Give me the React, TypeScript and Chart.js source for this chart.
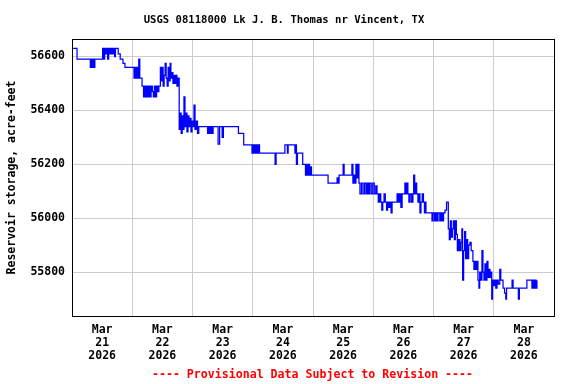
import React, { useEffect, useRef } from 'react';
import { Chart, registerables } from 'chart.js';

Chart.register(...registerables);

const TITLE = 'USGS 08118000 Lk J. B. Thomas nr Vincent, TX';
const FOOTER = '---- Provisional Data Subject to Revision ----';
const Y_LABEL = 'Reservoir storage, acre-feet';
const MONTH = 'Mar';
const YEAR = '2026';
const DAY_LABELS = ['21', '22', '23', '24', '25', '26', '27', '28'];
const Y_TICKS = [55800, 56000, 56200, 56400, 56600];
const Y_MIN = 55637;
const Y_MAX = 56665;
const X_MAX_HOURS = 192;

// hours since Mar 21 2026 00:00
const HOURS = [
  0, 2.0, 7.3, 7.6, 8.0, 8.4, 8.8, 9.1, 12.2, 12.6, 13.0, 13.4, 13.8, 14.2, 14.6,
  15.0, 15.25, 15.5, 15.75, 16.0, 16.25, 16.5, 16.75, 17.0, 17.3, 18.4, 19.2, 20.3, 21.1,
  24.7, 25.0, 25.4, 25.8, 26.2, 26.6, 27.0, 27.9, 28.5, 28.8, 29.3, 29.7, 30.2, 30.5,
  31.0, 31.5, 32.0, 32.4, 32.8, 33.3, 33.7, 34.2, 34.6, 35.2, 35.5, 35.9, 36.3, 36.7,
  37.1, 37.5, 37.9, 38.3, 38.7, 39.1, 39.4, 39.8, 40.2, 40.6, 41.0, 41.4, 41.8, 42.2,
  42.7, 43.1, 43.5, 43.9, 44.3, 44.6, 45.0, 45.4, 45.8, 46.2, 46.6, 47.0, 47.4, 47.8,
  48.2, 48.6, 49.0, 49.5, 50.0, 50.5, 54.0, 54.4, 54.8, 55.3, 55.8, 56.2, 58.2, 58.8,
  59.8, 60.3, 66.3, 68.4, 71.7, 72.0, 72.3, 72.6, 72.9, 73.2, 73.5, 73.8, 74.1, 74.4,
  74.7, 80.9, 81.3, 84.8, 85.8, 86.1, 88.8, 89.1, 89.4, 89.8, 91.9, 93.0, 93.4, 93.8,
  94.2, 94.6, 95.0, 95.4, 102.0, 105.6, 106.0, 106.4, 108.0, 108.4, 111.5, 111.9, 112.3,
  112.7, 113.1, 113.5, 113.9, 114.3, 114.7, 115.3, 115.9, 116.5, 117.1, 117.6, 118.1,
  118.6, 119.2, 119.8, 120.4, 121.0, 121.5, 122.0, 122.5, 123.0, 123.4, 123.8, 124.3,
  124.8, 125.3, 125.7, 126.2, 126.7, 127.1, 127.5, 129.5, 130.0, 130.5, 131.0, 131.5,
  132.6, 133.0, 133.4, 133.8, 134.2, 134.7, 135.3, 135.8, 136.1, 136.5, 136.9, 137.3,
  137.8, 138.2, 138.6, 139.0, 139.5, 140.0, 140.4, 140.7, 141.0, 143.4, 143.8, 144.4,
  144.8, 145.3, 145.8, 146.5, 147.0, 147.5, 148.0, 148.6, 149.2, 149.9, 150.3, 150.7,
  151.1, 151.5, 151.9, 152.3, 152.7, 153.1, 153.5, 154.0, 154.5, 155.0, 155.3, 155.6,
  156.0, 156.4, 156.8, 157.2, 157.6, 158.0, 158.5, 159.0, 159.7, 160.1, 160.5, 161.0,
  161.3, 161.7, 162.1, 162.4, 162.8, 163.3, 163.7, 164.1, 164.5, 164.9, 165.3, 165.7,
  166.1, 166.5, 166.9, 167.2, 167.5, 167.9, 168.3, 168.8, 169.3, 169.8, 170.4, 170.8,
  171.7, 172.3, 172.8, 173.1, 175.3, 175.7, 177.8, 178.2, 181.2, 183.2, 183.6, 184.0,
  184.4, 184.8, 185.2,
];

const STORAGE = [
  56630, 56590, 56560, 56590, 56560, 56590, 56560, 56590, 56630, 56590, 56630, 56610, 56630, 56590, 56630,
  56610, 56630, 56610, 56630, 56610, 56630, 56610, 56630, 56600, 56630, 56610, 56590, 56575, 56560,
  56520, 56560, 56520, 56560, 56520, 56590, 56520, 56490, 56450, 56490, 56450, 56490, 56450, 56490,
  56450, 56490, 56470, 56450, 56490, 56450, 56490, 56470, 56490, 56560, 56510, 56560, 56490, 56530,
  56575, 56520, 56490, 56560, 56510, 56575, 56520, 56540, 56500, 56530, 56500, 56530, 56490, 56520,
  56330, 56390, 56315, 56380, 56330, 56450, 56340, 56390, 56320, 56380, 56340, 56370, 56320, 56360,
  56340, 56420, 56330, 56360, 56315, 56340, 56315, 56340, 56315, 56340, 56315, 56340, 56275, 56340,
  56300, 56340, 56315, 56272, 56241, 56272, 56241, 56272, 56241, 56272, 56241, 56272, 56241, 56272,
  56241, 56200, 56241, 56272, 56241, 56272, 56241, 56272, 56200, 56241, 56200, 56160, 56200, 56160,
  56200, 56160, 56190, 56160, 56130, 56150, 56130, 56160, 56200, 56160, 56200, 56130, 56160,
  56130, 56200, 56150, 56200, 56130, 56090, 56130, 56090, 56130, 56090, 56130, 56090,
  56130, 56090, 56130, 56090, 56120, 56090, 56060, 56090, 56060, 56030, 56060, 56090,
  56060, 56030, 56060, 56040, 56060, 56020, 56060, 56090, 56060, 56090, 56040, 56090,
  56130, 56090, 56130, 56090, 56060, 56090, 56060, 56090, 56160, 56090, 56130, 56090,
  56060, 56090, 56020, 56060, 56090, 56060, 56020, 56060, 56020, 55990, 56020, 55990,
  56020, 55990, 56020, 55990, 56020, 55990, 56020, 56030, 56060, 55960, 55920, 55990,
  55930, 55960, 55990, 55920, 55990, 55940, 55880, 55920, 55880, 55910, 55960, 55770,
  55880, 55950, 55850, 55920, 55850, 55900, 55910, 55880, 55840, 55810, 55840, 55810,
  55840, 55770, 55740, 55800, 55770, 55880, 55800, 55770, 55830, 55770, 55840, 55780,
  55810, 55780, 55800, 55700, 55770, 55750, 55770, 55740, 55770, 55755, 55810, 55770,
  55740, 55722, 55700, 55740, 55770, 55740, 55700, 55740, 55770, 55740, 55770, 55740,
  55770, 55740, 55770,
];

const FONT = "'DejaVu Sans Mono', 'Liberation Mono', monospace";

const framePlugin = {
  id: 'frameAndTexts',
  afterDraw(chart: any) {
    const { ctx, chartArea: a } = chart;
    ctx.save();
    ctx.strokeStyle = '#000000';
    ctx.lineWidth = 1;
    ctx.strokeRect(a.left + 0.5, a.top + 0.5, a.right - a.left, a.bottom - a.top);
    ctx.textAlign = 'center';
    ctx.textBaseline = 'middle';
    ctx.fillStyle = '#000000';
    ctx.font = `bold 10.6px ${FONT}`;
    ctx.fillText(TITLE, 284, 20);
    ctx.fillStyle = '#ff0000';
    ctx.font = `bold 11.6px ${FONT}`;
    ctx.fillText(FOOTER, 312.5, 375);
    ctx.restore();
  },
};

export default function App() {
  const ref = useRef<HTMLCanvasElement | null>(null);

  useEffect(() => {
    if (!ref.current) return;
    const points = HOURS.map((h, i) => ({ x: h, y: STORAGE[i] }));
    const chart = new Chart(ref.current, {
      type: 'line',
      data: {
        datasets: [
          {
            data: points,
            borderColor: '#0000ff',
            borderWidth: 1.25,
            pointRadius: 0,
            stepped: true,
            fill: false,
          },
        ],
      },
      options: {
        animation: false,
        responsive: false,
        maintainAspectRatio: false,
        layout: { padding: { top: 39, right: 22, bottom: 0, left: 0 } },
        plugins: {
          legend: { display: false },
          tooltip: { enabled: false },
          title: { display: false },
        },
        scales: {
          x: {
            type: 'linear',
            min: 0,
            max: X_MAX_HOURS,
            afterBuildTicks: (scale: any) => {
              const t = [];
              for (let h = 0; h <= X_MAX_HOURS; h += 12) t.push({ value: h });
              scale.ticks = t;
            },
            afterFit: (scale: any) => {
              scale.height = 68;
            },
            border: { display: false },
            grid: {
              drawTicks: false,
              lineWidth: 1,
              color: (c: any) =>
                c.tick && c.tick.value % 24 === 0 ? '#cccccc' : 'rgba(0,0,0,0)',
            },
            ticks: {
              autoSkip: false,
              maxRotation: 0,
              minRotation: 0,
              padding: 7.5,
              color: '#000000',
              font: { family: FONT, size: 11.5, weight: 'bold', lineHeight: '13px' },
              callback: (v: any) => {
                const val = Number(v);
                if (val % 24 === 12) {
                  const idx = (val - 12) / 24;
                  return [MONTH, DAY_LABELS[idx], YEAR];
                }
                return '';
              },
            },
          },
          y: {
            type: 'linear',
            min: Y_MIN,
            max: Y_MAX,
            afterBuildTicks: (scale: any) => {
              scale.ticks = Y_TICKS.map((v) => ({ value: v }));
            },
            afterFit: (scale: any) => {
              scale.width = 72;
            },
            border: { display: false },
            grid: { drawTicks: false, color: '#cccccc', lineWidth: 1 },
            ticks: {
              padding: 7,
              color: '#000000',
              font: { family: FONT, size: 11.5, weight: 'bold' },
              callback: (v: any) => String(v),
            },
            title: {
              display: true,
              text: Y_LABEL,
              color: '#000000',
              font: { family: FONT, size: 11.5, weight: 'bold' },
              padding: { top: 5.5, bottom: 0 },
            },
          },
        },
      },
      plugins: [framePlugin],
    } as any);
    return () => chart.destroy();
  }, []);

  return (
    <div style={{ position: 'absolute', left: 0, top: 0, width: 576, height: 384, background: '#ffffff' }}>
      <canvas ref={ref} width={576} height={384} style={{ display: 'block', width: 576, height: 384 }} />
    </div>
  );
}
